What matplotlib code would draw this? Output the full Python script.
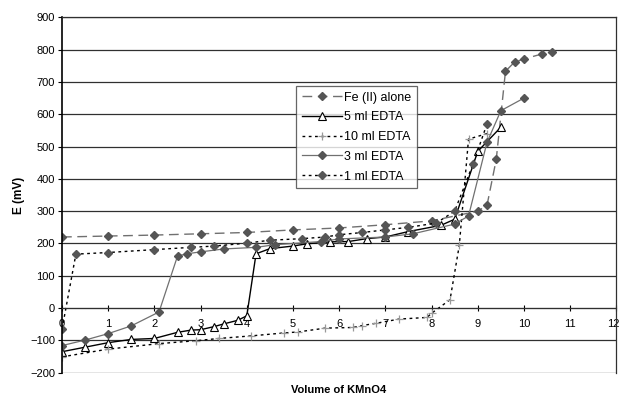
import numpy as np
import matplotlib
matplotlib.use('Agg')
import matplotlib.pyplot as plt
import matplotlib.transforms as mtransforms

plt.rcParams['font.family'] = ['Liberation Sans', 'DejaVu Sans']

# Fe (II) alone
fe_x = [0, 1, 2, 3, 4, 5, 6, 7, 8, 9, 9.2, 9.4, 9.6, 9.8, 10, 10.4, 10.6]
fe_y = [220, 223, 226, 230, 234, 242, 248, 258, 270, 300, 318, 460, 733, 762, 771, 787, 793]

# 5 ml EDTA
e5_x = [0, 0.5, 1.0, 1.5, 2.0, 2.5, 2.8, 3.0, 3.3, 3.5, 3.8, 4.0, 4.2, 4.5, 5.0, 5.3,
        5.8, 6.2, 6.6, 7.0, 7.5, 8.2, 8.5, 9.0, 9.5]
e5_y = [-135, -121, -107, -97, -94, -75, -68, -67, -57, -49, -38, -24, 168, 184, 192, 199,
        205, 206, 215, 220, 237, 256, 275, 485, 560]

# 10 ml EDTA
e10_x = [0, 1.0, 2.1, 2.9, 3.4, 4.1, 4.8, 5.1, 5.7, 6.3, 6.5, 6.8, 7.3, 7.9, 8.0, 8.4,
         8.6, 8.8, 9.2]
e10_y = [-151, -127, -110, -101, -94, -86, -77, -74, -62, -60, -54, -47, -34, -29, -16, 26,
         194, 523, 540]

# 3 ml EDTA
e3_x = [0, 0.5, 1.0, 1.5, 2.1, 2.5, 2.7, 3.0, 3.5, 4.2, 4.6, 5.6, 6.0, 7.0, 7.6, 8.5,
        8.8, 9.2, 9.5, 10.0]
e3_y = [-116, -99, -79, -55, -12, 161, 168, 174, 183, 188, 196, 206, 214, 220, 230, 260,
        285, 513, 611, 650]

# 1 ml EDTA
e1_x = [0, 0.3, 1.0, 2.0, 2.8, 3.3, 4.0, 4.5, 5.2, 5.7, 6.0, 6.5, 7.0, 7.5, 8.1, 8.5,
        8.9, 9.2]
e1_y = [-65, 167, 172, 181, 188, 192, 201, 210, 215, 220, 227, 234, 242, 250, 263, 300,
        447, 570]

fig = plt.figure(figsize=(6.21, 3.97), dpi=100)
ax = fig.add_axes([0.0999, 0.0612, 0.8926, 0.8952])

ax.plot(fe_x, fe_y, color='#707070', lw=1.0, dashes=(7, 4), marker='D', ms=4,
        mfc='#555555', mec='#555555', label='Fe (II) alone')
ax.plot(e5_x, e5_y, color='black', lw=1.0, marker='^', ms=5.5, mfc='white',
        mec='black', mew=0.8, label='5 ml EDTA')
ax.plot(e10_x, e10_y, color='black', lw=1.0, dashes=(2, 2.5), marker='+', ms=6,
        mec='#999999', mew=0.9, label='10 ml EDTA')
ax.plot(e3_x, e3_y, color='#707070', lw=0.9, marker='D', ms=4,
        mfc='#555555', mec='#555555', label='3 ml EDTA')
ax.plot(e1_x, e1_y, color='black', lw=1.0, dashes=(2, 2.5), marker='D', ms=4,
        mfc='#555555', mec='#555555', label='1 ml EDTA')

ax.set_xlim(0, 12)
ax.set_ylim(-200, 900)
ax.set_xticks(range(0, 13))
ax.set_yticks(range(-200, 1000, 100))
ax.yaxis.grid(True, color='#303030', lw=0.9)
ax.set_axisbelow(True)

ax.spines['bottom'].set_position(('data', 0))
ax.spines['bottom'].set_color('#303030')
for s in ['top', 'right']:
    ax.spines[s].set_color('#303030')
    ax.spines[s].set_linewidth(0.9)
ax.spines['left'].set_color('black')
ax.spines['left'].set_linewidth(1.2)

ax.tick_params(axis='x', direction='inout', length=5, labelsize=8, pad=5, colors='black')
ax.tick_params(axis='y', direction='out', length=3, labelsize=8, pad=2)
ax.set_ylabel('E (mV)', fontsize=8.5, fontweight='bold', labelpad=4)
fig.text(339 / 621, 1 - 390 / 397, 'Volume of KMnO4', fontsize=8, fontweight='bold',
         ha='center', va='center')

# keep the last x label inside the figure
last = ax.get_xticklabels()[-1]
last.set_transform(last.get_transform() + mtransforms.ScaledTranslation(-3 / 100, 0, fig.dpi_scale_trans))

leg = ax.legend(loc='upper left', bbox_to_anchor=(0.422, 0.807), borderaxespad=0,
                fontsize=9, frameon=True, fancybox=False, handlelength=3.2,
                handletextpad=0.2, labelspacing=0.62, borderpad=0.45)
leg.get_frame().set_edgecolor('#404040')
leg.get_frame().set_linewidth(0.9)

fig.savefig('out.png', dpi=100)
